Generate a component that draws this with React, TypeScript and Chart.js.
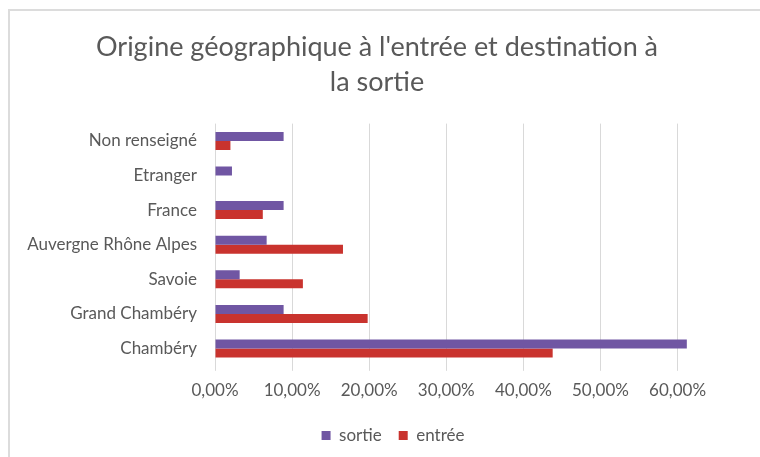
import React, { useEffect, useRef } from 'react';
import { Chart, registerables } from 'chart.js';

Chart.register(...registerables);

const categories = ['Non renseigné', 'Etranger', 'France', 'Auvergne Rhône Alpes', 'Savoie', 'Grand Chambéry', 'Chambéry'];
const sortieValues = [0.089, 0.022, 0.089, 0.067, 0.032, 0.089, 0.612];
const entreeValues = [0.020, 0, 0.062, 0.166, 0.114, 0.198, 0.438];
const seriesNames = ['sortie', 'entrée'];
const seriesColors = ['#7056A3', '#C9332E'];
const titleLines = ["Origine géographique à l'entrée et destination à", 'la sortie'];
const xTickStep = 0.1;
const xMax = 0.63;

const FONT = 'Lato, "Open Sans", sans-serif';
const TEXT = '#595959';

const shiftLegend = {
  id: 'shiftLegend',
  afterLayout(chart: any) {
    const lg = chart.legend;
    if (lg) {
      lg.left += 32;
    }
  },
};

export default function App() {
  const ref = useRef<HTMLCanvasElement | null>(null);

  useEffect(() => {
    if (!ref.current) return;
    const chart = new Chart(ref.current, {
      type: 'bar',
      data: {
        labels: categories,
        datasets: [
          {
            label: seriesNames[0],
            data: sortieValues,
            backgroundColor: seriesColors[0],
            xAxisID: 'x',
            yAxisID: 'y',
          },
          {
            label: seriesNames[1],
            data: entreeValues,
            backgroundColor: seriesColors[1],
            xAxisID: 'x',
            yAxisID: 'y',
          },
        ],
      },
      options: {
        indexAxis: 'y',
        responsive: false,
        animation: false,
        maintainAspectRatio: false,
        datasets: {
          bar: { barPercentage: 1, categoryPercentage: 0.52 },
        },
        layout: { padding: { left: 0, right: 6, top: 0, bottom: 0 } },
        plugins: {
          title: {
            display: true,
            text: titleLines,
            color: TEXT,
            font: { family: FONT, size: 27, weight: 'normal', lineHeight: '35px' },
            padding: { top: 29.5, bottom: 24.1 },
          },
          legend: {
            display: true,
            position: 'bottom',
            labels: {
              color: TEXT,
              font: { family: FONT, size: 17 },
              boxWidth: 9,
              boxHeight: 9,
              padding: 17,
            },
          },
          tooltip: { enabled: false },
        },
        scales: {
          x: {
            type: 'linear',
            position: 'bottom',
            min: 0,
            max: xMax,
            grid: { color: '#d9d9d9', lineWidth: 1, drawTicks: true, tickLength: 5 },
            border: { display: false },
            ticks: {
              stepSize: xTickStep,
              includeBounds: false,
              color: TEXT,
              padding: 1.6,
              font: { family: FONT, size: 17, lineHeight: '36px' },
              callback: (v: any) => (Number(v) * 100).toFixed(2).replace('.', ',') + '%',
            },
          },
          y: {
            type: 'category',
            position: 'left',
            grid: { display: false, drawTicks: false, tickLength: 0 },
            border: { display: false },
            ticks: {
              color: TEXT,
              padding: 18,
              font: { family: FONT, size: 17 },
            },
            afterFit: (s: any) => {
              s.width = 215;
            },
          },
          yRight: {
            type: 'linear',
            position: 'right',
            display: true,
            grid: { display: false, drawTicks: false, tickLength: 0 },
            border: { display: false },
            ticks: { display: false },
            afterFit: (s: any) => {
              s.width = 53.3;
            },
          },
        },
      },
      plugins: [shiftLegend],
    });
    return () => chart.destroy();
  }, []);

  return (
    <div style={{ position: 'fixed', left: 0, top: 0, width: 760, height: 457, overflow: 'hidden', background: '#fff' }}>
      <div
        style={{
          position: 'absolute',
          left: 8,
          top: 9,
          width: 800,
          height: 500,
          borderLeft: '2px solid #dcdcdc',
          borderTop: '2px solid #dcdcdc',
        }}
      />
      <canvas
        ref={ref}
        width={760}
        height={454}
        style={{ position: 'absolute', left: 0, top: 0, width: 760, height: 454 }}
      />
    </div>
  );
}
